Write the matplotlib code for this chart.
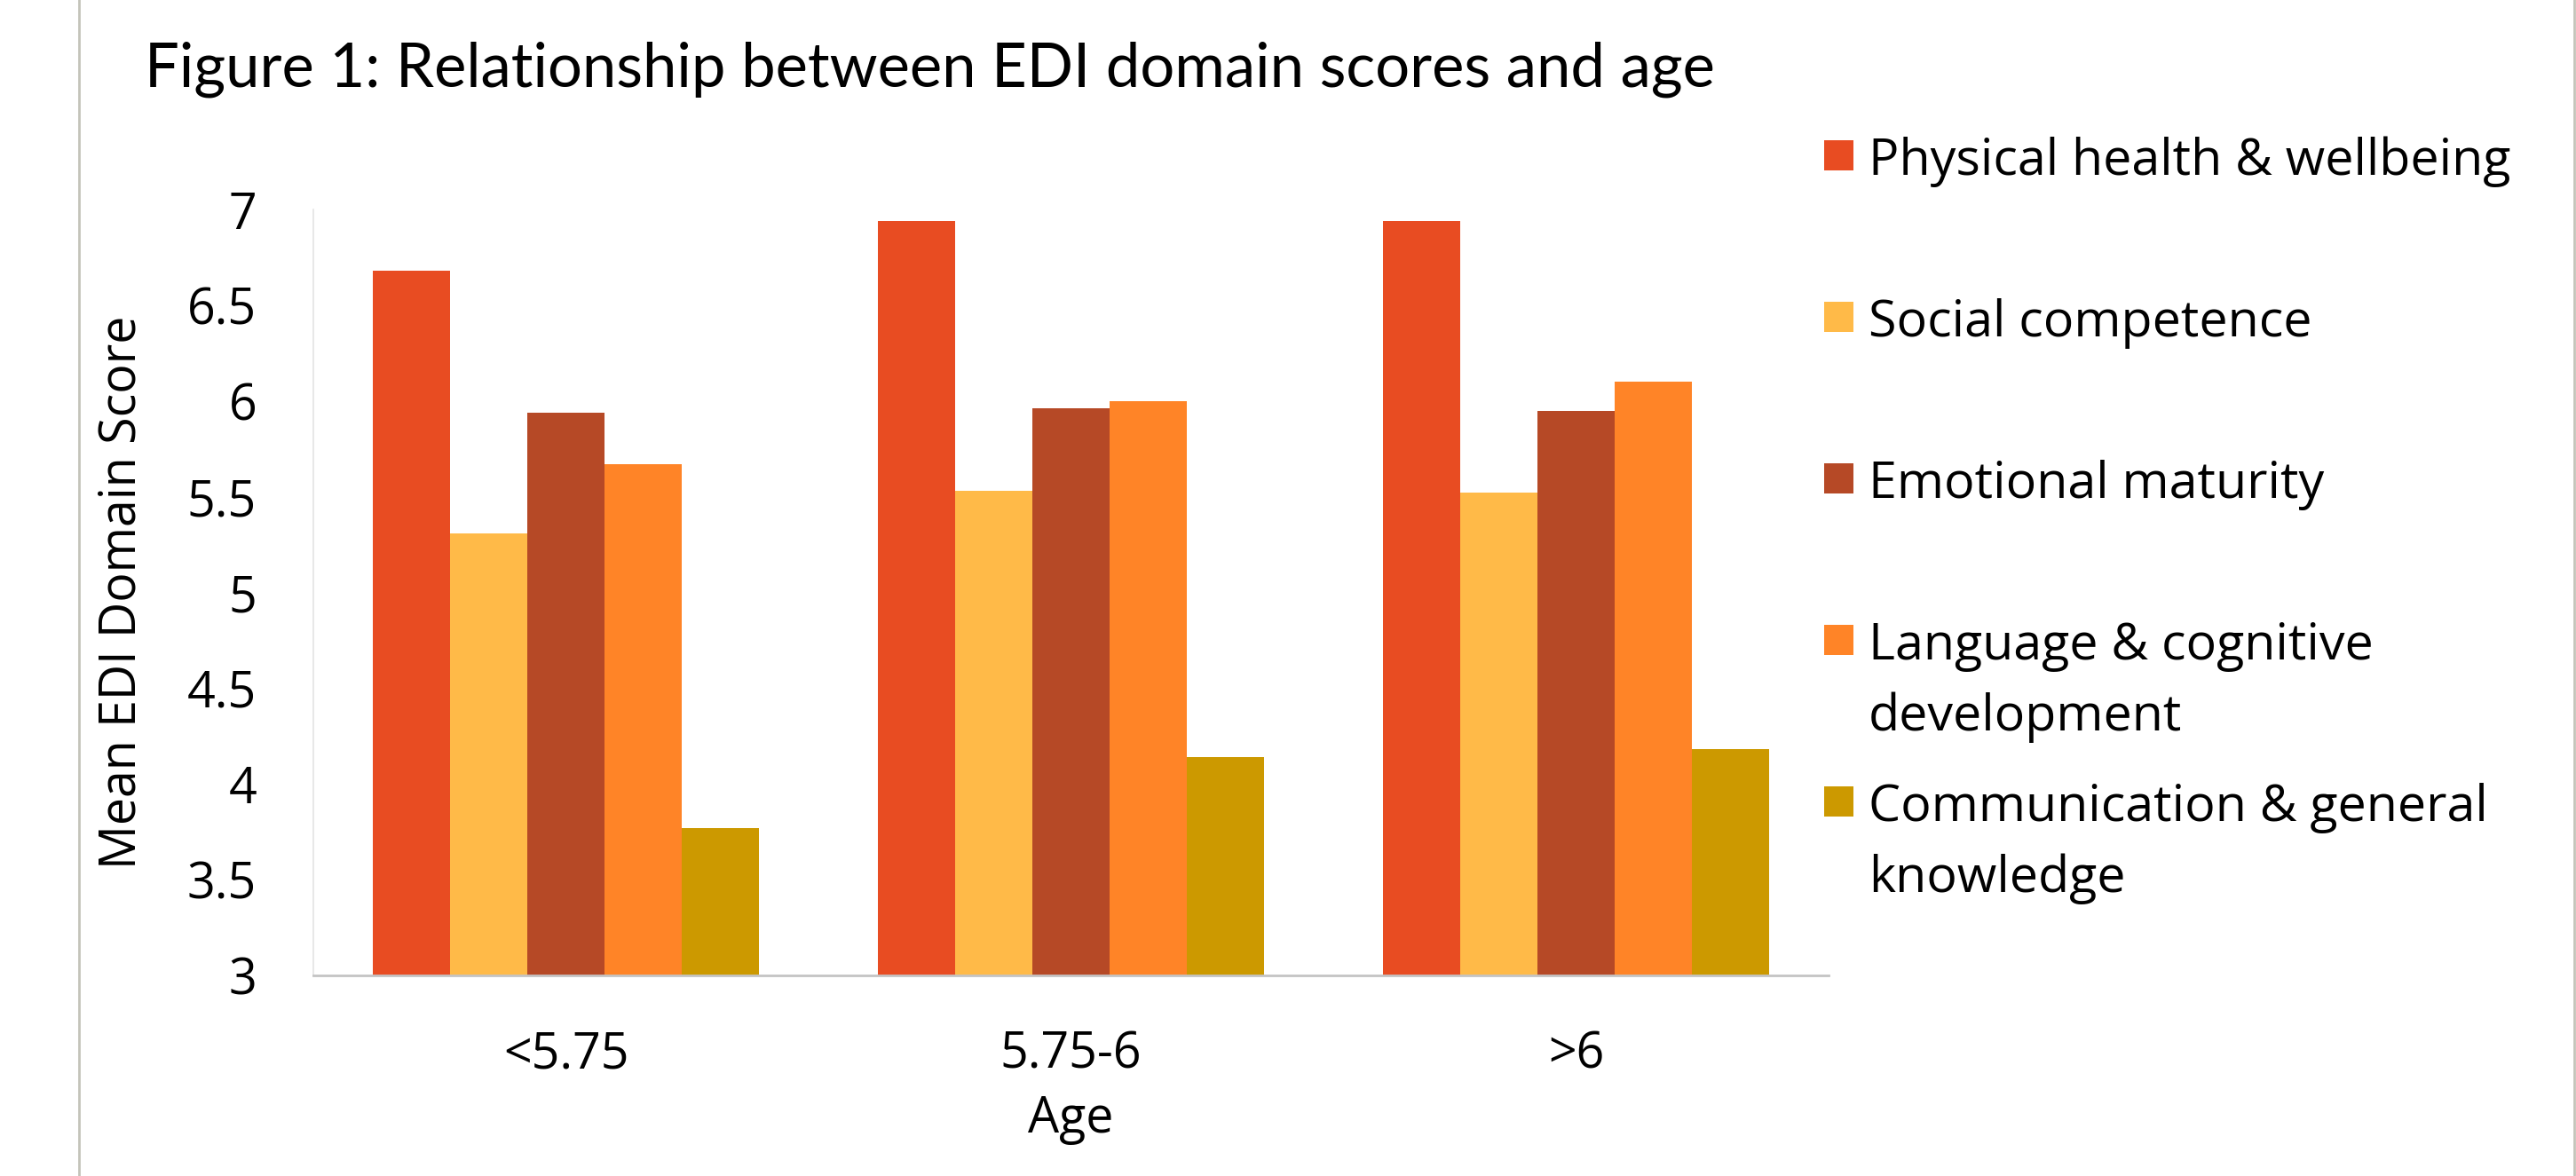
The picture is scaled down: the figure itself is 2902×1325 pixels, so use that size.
import matplotlib.pyplot as plt
from matplotlib.lines import Line2D
from matplotlib.patches import Rectangle
import numpy as np

W, H = 2902, 1325

ages = ['<5.75', '5.75-6', '>6']
domains = ['Physical health & wellbeing', 'Social competence', 'Emotional maturity',
           'Language & cognitive\ndevelopment', 'Communication & general\nknowledge']
colors = ['#E84C22', '#FFBA48', '#B64926', '#FF8427', '#CC9900']

physical = [6.68, 6.94, 6.94]
social = [5.31, 5.53, 5.52]
emotional = [5.94, 5.96, 5.95]
language = [5.67, 6.00, 6.10]
communication = [3.77, 4.14, 4.18]
scores = [physical, social, emotional, language, communication]

plt.rcParams['font.family'] = ['Open Sans', 'DejaVu Sans']

fig = plt.figure(figsize=(W / 100, H / 100), dpi=100)
ax = fig.add_axes([353 / W, 1 - 1099 / H, 1707 / W, 863 / H])

x = np.arange(len(ages))
bw = 0.153
for k, (vals, c) in enumerate(zip(scores, colors)):
    ax.bar(x + (k - 2) * bw, np.array(vals) - 3, bw, bottom=3, color=c, linewidth=0)

ax.set_xlim(-0.5, 2.5)
ax.set_ylim(3, 7)
ax.set_yticks(np.arange(3, 7.01, 0.5))
ax.set_yticklabels(['3', '3.5', '4', '4.5', '5', '5.5', '6', '6.5', '7'])
ax.set_xticks(x)
ax.set_xticklabels(ages)
ax.tick_params(length=0, labelsize=40, colors='#000000')
ax.tick_params(axis='y', pad=46)
ax.tick_params(axis='x', pad=44)
for s in ['top', 'right']:
    ax.spines[s].set_visible(False)
ax.spines['left'].set_color('#E4E4E4')
ax.spines['bottom'].set_color('#C4C4C4')
ax.spines['left'].set_linewidth(1.2)
ax.spines['bottom'].set_linewidth(2)

ax.set_ylabel('Mean EDI Domain Score', fontsize=40)
ax.yaxis.set_label_coords(-0.109, 0.5)
ax.set_xlabel('Age', fontsize=40)
ax.xaxis.set_label_coords(0.5, -0.155)

fig.text(163 / W, 1 - 97 / H, 'Figure 1: Relationship between EDI domain scores and age',
         family='Lato', fontsize=49.5, va='baseline', ha='left')

# legend drawn by hand so the swatches sit on the first text line
for i, (name, c) in enumerate(zip(domains, colors)):
    yc = 175 + 182 * i
    fig.add_artist(Rectangle((2055 / W, 1 - (yc + 17) / H), 33 / W, 34 / H,
                             transform=fig.transFigure, color=c, lw=0))
    for j, line in enumerate(name.split('\n')):
        fig.text(2105 / W, 1 - (yc + 22 + 80 * j) / H, line, fontsize=41.3,
                 va='baseline', ha='left')

# frame lines at the left and right edges
for xe in [89, 2900]:
    fig.add_artist(Line2D([xe / W, xe / W], [0, 1], transform=fig.transFigure,
                          color='#C4C4BA', lw=2))

fig.savefig('out.png', dpi=100, facecolor='white')
